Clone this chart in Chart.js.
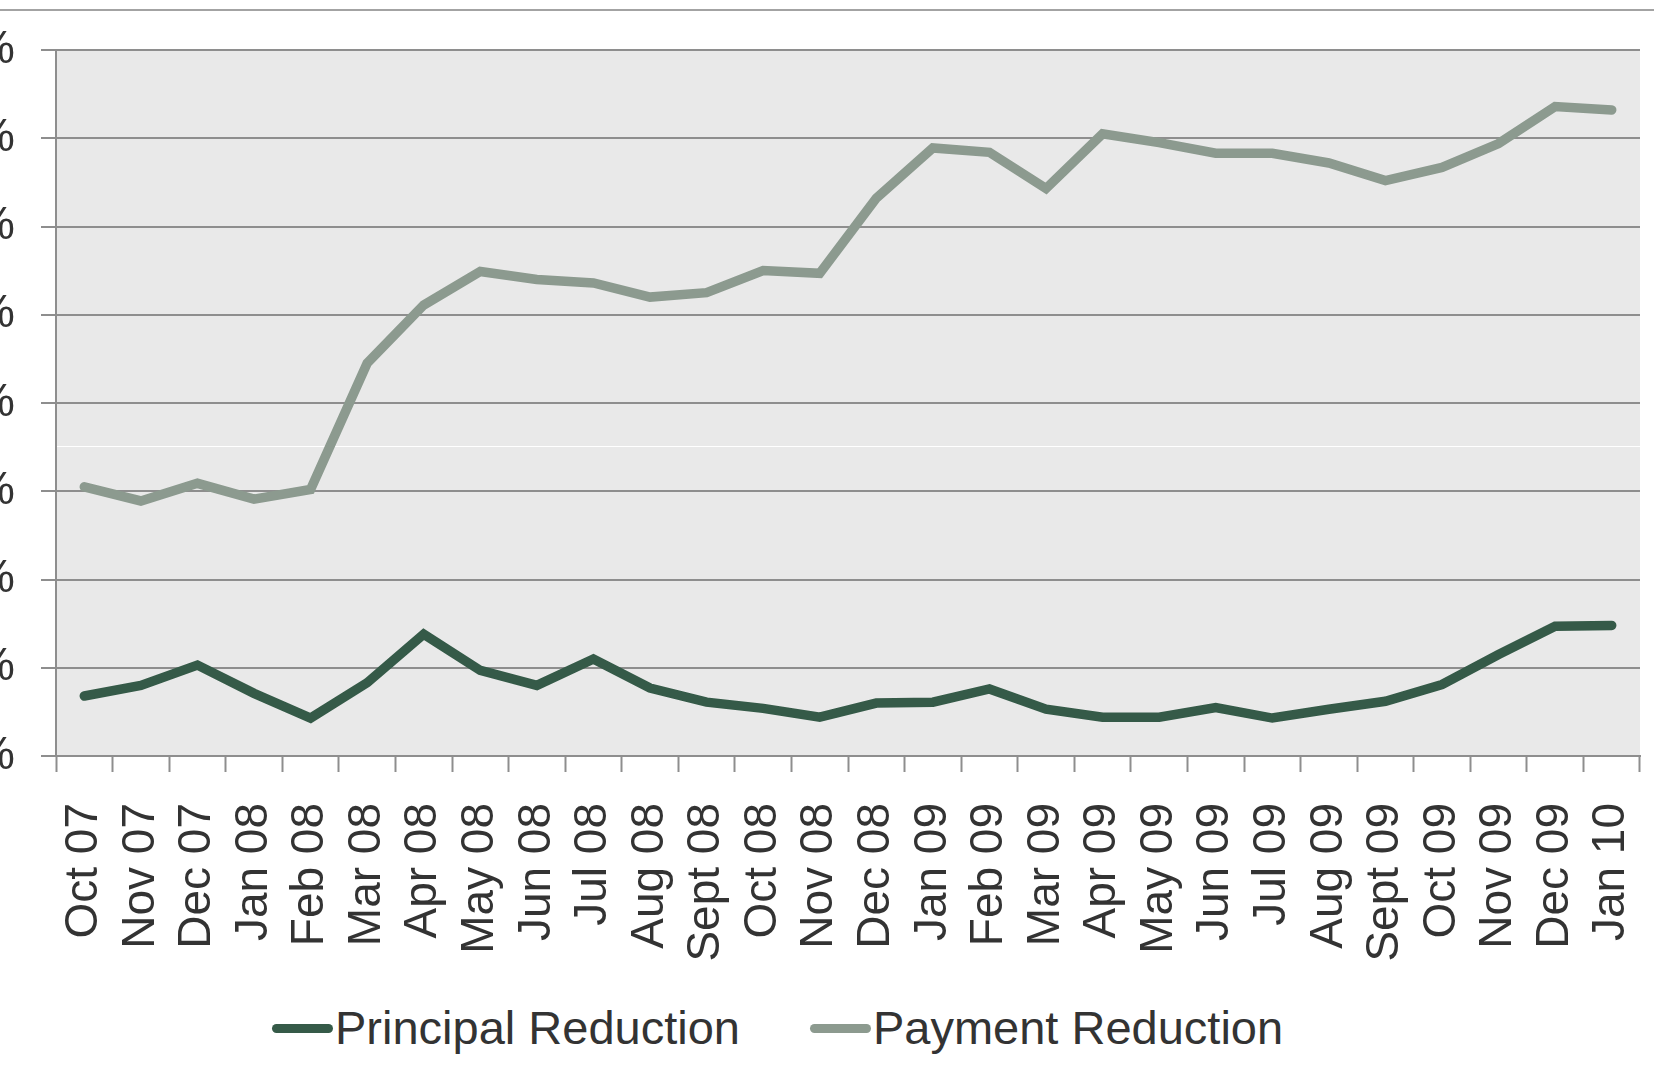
<!DOCTYPE html>
<html>
<head>
<meta charset="utf-8">
<title>Principal vs Payment Reduction</title>
<script src="https://cdn.jsdelivr.net/npm/chart.js@4/dist/chart.umd.min.js"></script>
<style>
    html, body {
        margin: 0;
        padding: 0;
        width: 1654px;
        height: 1071px;
        overflow: hidden;
        background: #ffffff;
        font-family: "Liberation Sans", Arial, sans-serif;
    }
    .top-rule {
        position: absolute;
        left: 0;
        top: 9px;
        width: 1654px;
        height: 2px;
        background: #a3a3a3;
    }
    .chart-wrap {
        position: absolute;
        left: -100px;
        top: 0;
        width: 1754px;
        height: 970px;
    }
    .legend {
        position: absolute;
        top: 1004px;
        left: 272px;
        display: flex;
        align-items: center;
        font-size: 47px;
        line-height: 47px;
        color: #333333;
        white-space: nowrap;
    }
    .legend-item {
        display: flex;
        align-items: center;
    }
    .legend-item + .legend-item {
        margin-left: 70px;
    }
    .legend-line {
        display: inline-block;
        width: 61px;
        height: 9px;
        border-radius: 5px;
        margin-right: 2px;
        margin-top: 2px;
    }
</style>
</head>
<body>
<div class="top-rule"></div>
<div class="chart-wrap">
    <canvas id="reductionChart" width="1754" height="970"></canvas>
</div>
<div class="legend" id="chartLegend"></div>

<script>
// Share of modifications by type, monthly
const months = [
    'Oct 07', 'Nov 07', 'Dec 07', 'Jan 08', 'Feb 08', 'Mar 08', 'Apr 08',
    'May 08', 'Jun 08', 'Jul 08', 'Aug 08', 'Sept 08', 'Oct 08', 'Nov 08',
    'Dec 08', 'Jan 09', 'Feb 09', 'Mar 09', 'Apr 09', 'May 09', 'Jun 09',
    'Jul 09', 'Aug 09', 'Sept 09', 'Oct 09', 'Nov 09', 'Dec 09', 'Jan 10'
];

const principalReduction = [
    6.8, 8.0, 10.3, 7.1, 4.3, 8.3, 13.8,
    9.7, 8.0, 11.0, 7.7, 6.1, 5.4, 4.4,
    6.0, 6.1, 7.6, 5.3, 4.4, 4.4, 5.5,
    4.3, 5.3, 6.2, 8.1, 11.5, 14.7, 14.8
];

const paymentReduction = [
    30.5, 28.9, 30.9, 29.1, 30.2, 44.5, 51.1,
    54.9, 54.0, 53.6, 52.0, 52.5, 55.0, 54.7,
    63.2, 68.9, 68.4, 64.3, 70.5, 69.5, 68.3,
    68.3, 67.2, 65.2, 66.7, 69.4, 73.6, 73.2
];

const yMin = 0;
const yMax = 80;
const yStep = 10;

// faint white rule that runs across the plot in the original
const whiteRuleValue = 35.1;

const seriesNames = ['Principal Reduction', 'Payment Reduction'];
const seriesColors = ['#355a48', '#8c9a8f'];

const plotBackground = {
    id: 'plotBackground',
    beforeDraw(chart) {
        const { ctx, chartArea, scales } = chart;
        ctx.save();
        ctx.fillStyle = '#e9e9e9';
        ctx.fillRect(chartArea.left, chartArea.top, chartArea.right - chartArea.left, chartArea.bottom - chartArea.top);
        const y = Math.round(scales.y.getPixelForValue(whiteRuleValue)) + 0.5;
        ctx.strokeStyle = '#ffffff';
        ctx.lineWidth = 1;
        ctx.beginPath();
        ctx.moveTo(chartArea.left, y);
        ctx.lineTo(chartArea.right, y);
        ctx.stroke();
        ctx.restore();
    }
};

function buildLegend() {
    const legend = document.getElementById('chartLegend');
    legend.innerHTML = seriesNames.map((name, i) => `
        <div class="legend-item">
            <span class="legend-line" style="background:${seriesColors[i]}"></span>
            <span>${name}</span>
        </div>
    `).join('');
}

document.addEventListener('DOMContentLoaded', function() {
    buildLegend();

    const ctx = document.getElementById('reductionChart').getContext('2d');

    new Chart(ctx, {
        type: 'line',
        data: {
            labels: months,
            datasets: [
                {
                    label: seriesNames[0],
                    data: principalReduction,
                    borderColor: seriesColors[0],
                    backgroundColor: seriesColors[0],
                    borderWidth: 9.5,
                    borderCapStyle: 'round',
                    pointRadius: 0,
                    tension: 0,
                    fill: false
                },
                {
                    label: seriesNames[1],
                    data: paymentReduction,
                    borderColor: seriesColors[1],
                    backgroundColor: seriesColors[1],
                    borderWidth: 9.5,
                    borderCapStyle: 'round',
                    pointRadius: 0,
                    tension: 0,
                    fill: false
                }
            ]
        },
        options: {
            responsive: false,
            animation: false,
            layout: {
                padding: { top: 50, right: 14, bottom: 0, left: 0 }
            },
            plugins: {
                legend: { display: false },
                tooltip: { enabled: false }
            },
            scales: {
                x: {
                    offset: true,
                    afterFit: (axis) => {
                        axis.height = 214;
                        axis.paddingLeft = 0;
                        axis.paddingRight = 0;
                    },
                    grid: {
                        offset: true,
                        drawOnChartArea: false,
                        drawTicks: true,
                        tickLength: 16,
                        tickWidth: 2,
                        tickColor: '#8e8e8e'
                    },
                    border: { display: true, color: '#8e8e8e', width: 2 },
                    ticks: {
                        autoSkip: false,
                        minRotation: 90,
                        maxRotation: 90,
                        padding: 31,
                        color: '#333333',
                        font: { family: '"Liberation Sans", Arial, sans-serif', size: 46 }
                    }
                },
                y: {
                    min: yMin,
                    max: yMax,
                    afterFit: (axis) => {
                        axis.width = 156;
                        axis.paddingTop = 0;
                        axis.paddingBottom = 0;
                    },
                    grid: {
                        color: '#8e8e8e',
                        lineWidth: 2,
                        drawTicks: true,
                        tickLength: 15
                    },
                    border: { display: true, color: '#8e8e8e', width: 2 },
                    ticks: {
                        stepSize: yStep,
                        padding: 26,
                        color: '#333333',
                        font: { family: '"Liberation Sans", Arial, sans-serif', size: 46 },
                        callback: function(value) {
                            return value + '%';
                        }
                    }
                }
            }
        },
        plugins: [plotBackground]
    });
});
</script>
</body>
</html>
